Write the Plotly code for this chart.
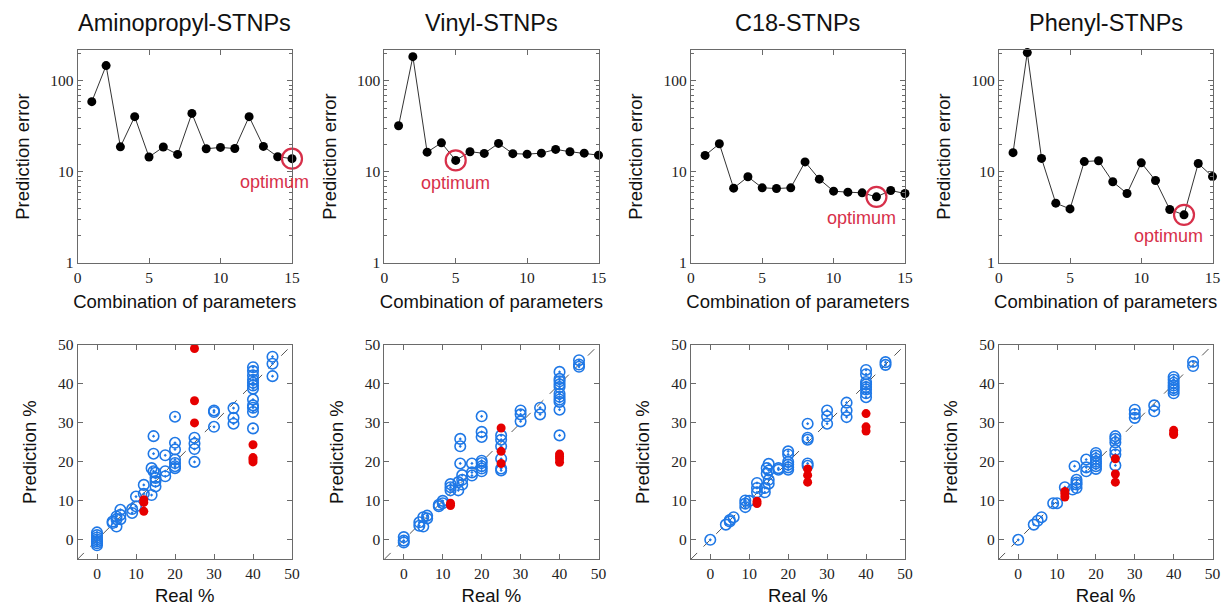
import math
import plotly.graph_objects as go

# ---------------- data ----------------
titles = ["Aminopropyl-STNPs", "Vinyl-STNPs", "C18-STNPs", "Phenyl-STNPs"]
combos = list(range(1, 16))
err_amino = [59.2, 147.5, 18.9, 40.5, 14.6, 18.8, 15.6, 44.0, 18.0, 18.6, 18.1, 40.5, 19.1, 14.7, 14.0]
err_vinyl = [32.2, 185.0, 16.5, 20.9, 13.4, 16.7, 16.0, 20.6, 15.9, 15.7, 16.1, 17.7, 16.7, 16.1, 15.3]
err_c18 = [15.2, 20.4, 6.64, 8.85, 6.7, 6.58, 6.7, 12.9, 8.34, 6.15, 6.0, 5.9, 5.33, 6.26, 5.8]
err_phenyl = [16.3, 205.0, 14.1, 4.54, 3.93, 13.0, 13.3, 7.8, 5.8, 12.6, 8.06, 3.87, 3.38, 12.4, 8.9]
optimum_idx = [15, 5, 13, 13]

# Aminopropyl scatter
am_blue_x = [0]*7 + [4, 4, 5, 5, 5, 6, 6, 6, 9, 9, 10, 10, 12, 12, 14, 14, 14.5, 14.5, 14.5,
             15, 15, 15, 15, 17.5, 17.5, 17.5, 20, 20, 20, 20, 20, 20, 20, 25, 25, 25, 25,
             30, 30, 30, 35, 35, 35] + [40]*12 + [45, 45, 45]
am_blue_y = [1.9, 1.2, 0.6, 0.1, -0.4, -0.9, -1.4, 4.7, 4.3, 6.0, 5.3, 3.4, 7.7, 6.4, 5.3, 7.9, 6.9,
             11.1, 8.6, 14.1, 11.8, 18.4, 11.5, 26.6, 22.1, 17.6, 17.2, 15.9, 15.0, 13.7, 21.7, 17.6,
             16.3, 31.6, 24.9, 23.2, 20.6, 19.7, 18.9, 18.4, 26.2, 24.7, 23.3, 20.0, 33.2, 32.8, 29.0,
             33.8, 31.3, 29.8, 44.3, 43.3, 42.2, 41.1, 40.3, 39.6, 38.8, 36.0, 34.5, 33.9, 32.8, 28.6,
             47.0, 45.2, 42.0]
am_red_x = [12, 12, 12, 25, 25, 25, 40, 40, 40, 40]
am_red_y = [10.3, 9.6, 7.3, 49.1, 35.7, 30.0, 24.4, 21.1, 20.6, 20.0]

# Vinyl scatter
vi_blue_x = [0, 0, 0, 4, 4, 5, 5, 6, 6, 9, 9, 10, 10, 12, 12, 12, 14, 14, 14.5, 14.5, 14.5,
             15, 15, 15, 17.5, 17.5, 17.5] + [20]*8 + [25]*6 + [30, 30, 30, 35, 35] + [40]*11 + [45, 45, 45]
vi_blue_y = [0.7, -0.2, -0.7, 4.5, 3.6, 5.8, 3.4, 6.2, 5.5, 9.0, 8.6, 10.0, 9.4, 14.3, 13.5, 12.7,
             14.8, 12.7, 25.9, 24.0, 19.6, 16.6, 15.4, 14.2, 19.6, 17.3, 16.5,
             31.7, 27.7, 26.4, 20.3, 19.7, 18.9, 18.3, 17.6, 26.8, 25.7, 24.0, 20.8, 18.3, 17.8,
             33.2, 32.2, 30.4, 33.9, 32.2, 43.1, 41.3, 40.7, 39.9, 39.2, 37.5, 36.7, 36.0, 35.4,
             33.4, 26.8, 46.1, 45.0, 44.4]
vi_red_x = [12, 12, 25, 25, 25, 40, 40, 40, 40]
vi_red_y = [9.4, 8.8, 28.7, 22.7, 19.6, 22.0, 21.4, 20.8, 19.9]

# C18 scatter
c18_blue_x = [0, 4, 5, 5, 6, 9, 9, 9, 10, 12, 12, 12, 14, 14, 14.5, 14.5, 15, 15, 15, 15, 17.5, 17.5] \
             + [20]*6 + [25]*5 + [30, 30, 30, 35, 35, 35] + [40]*8 + [45, 45]
c18_blue_y = [0.0, 3.9, 5.1, 4.7, 5.8, 10.1, 9.3, 8.4, 10.0, 14.6, 13.3, 12.2, 13.3, 12.2, 18.4, 17.0,
              19.5, 17.8, 15.4, 14.4, 18.4, 18.0, 22.7, 21.9, 20.0, 19.3, 18.6, 18.0,
              29.8, 26.2, 25.7, 19.6, 19.0, 33.2, 31.7, 29.8, 35.2, 33.2, 31.5,
              43.6, 42.5, 40.5, 39.9, 39.2, 38.6, 37.6, 36.6, 45.6, 44.9]
c18_red_x = [12, 12, 25, 25, 25, 40, 40, 40]
c18_red_y = [9.9, 9.3, 18.2, 16.6, 14.8, 32.4, 29.0, 27.9]

# Phenyl scatter
ph_blue_x = [0, 4, 5, 6, 9, 10, 12, 14, 14.5, 15, 15, 15, 15, 17.5, 17.5, 17.5] + [20]*7 + [25]*6 \
            + [30, 30, 30, 35, 35] + [40]*7 + [45, 45]
ph_blue_y = [0.0, 3.9, 4.9, 5.8, 9.4, 9.4, 13.5, 12.9, 18.9, 15.4, 14.7, 14.2, 13.3, 20.6, 18.6, 17.6,
             22.3, 21.6, 20.8, 20.1, 19.6, 18.9, 18.2, 26.6, 25.9, 25.0, 23.0, 21.9, 19.1,
             33.4, 32.3, 31.3, 34.5, 33.0, 41.8, 41.1, 40.3, 39.6, 39.0, 38.4, 37.6, 45.7, 44.6]
ph_red_x = [12, 12, 12, 25, 25, 25, 40, 40, 40]
ph_red_y = [12.4, 11.8, 11.0, 20.8, 16.9, 14.8, 28.1, 27.4, 27.0]

errors = [err_amino, err_vinyl, err_c18, err_phenyl]
blue_x = [am_blue_x, vi_blue_x, c18_blue_x, ph_blue_x]
blue_y = [am_blue_y, vi_blue_y, c18_blue_y, ph_blue_y]
red_x = [am_red_x, vi_red_x, c18_red_x, ph_red_x]
red_y = [am_red_y, vi_red_y, c18_red_y, ph_red_y]
diag = [-5, 50]

# ---------------- layout ----------------
W, H = 1223, 606
col_px = [(77.5, 292), (384.3, 598.5), (690.8, 905), (998.8, 1212.5)]
top_px = (50, 263)
bot_px = (345, 559.3)
opt_shift = [(-18, -23), (0, -23), (-15, -21), (-16, -21)]

tick_font = dict(family="Liberation Serif", size=15.5, color="#222")
title_font = dict(family="Liberation Sans", size=18.5, color="#111")
axis_col = "#6a6a6a"
opt_col = "#d7304a"
blue = "#1f78e6"
red = "#e60000"

fig = go.Figure()
layout = dict(width=W, height=H, margin=dict(l=0, r=0, t=0, b=0, autoexpand=False),
              paper_bgcolor="white", plot_bgcolor="white", showlegend=False,
              annotations=[])

def common_axis():
    return dict(showgrid=False, zeroline=False, showline=True, linecolor=axis_col, linewidth=1,
                mirror="allticks", ticks="inside", ticklen=5, tickcolor=axis_col, tickwidth=1,
                tickfont=tick_font, automargin=False)

for i in range(4):
    xt = 2 * i + 1  # top axes index
    xb = 2 * i + 2  # bottom axes index
    xd = [col_px[i][0] / W, col_px[i][1] / W]
    ydt = [1 - top_px[1] / H, 1 - top_px[0] / H]
    ydb = [1 - bot_px[1] / H, 1 - bot_px[0] / H]

    # top panel
    fig.add_trace(go.Scatter(x=combos, y=errors[i], mode="lines+markers",
                             line=dict(color="#333", width=1),
                             marker=dict(color="black", size=9),
                             xaxis=f"x{xt}", yaxis=f"y{xt}", cliponaxis=False))
    k = optimum_idx[i]
    fig.add_trace(go.Scatter(x=[combos[k - 1]], y=[errors[i][k - 1]], mode="markers",
                             marker=dict(symbol="circle-open", size=20, color=opt_col,
                                         line=dict(width=2.2, color=opt_col)),
                             xaxis=f"x{xt}", yaxis=f"y{xt}", cliponaxis=False))
    layout["annotations"].append(dict(
        x=combos[k - 1], y=math.log10(errors[i][k - 1]), xref=f"x{xt}", yref=f"y{xt}",
        text="optimum", showarrow=False, xshift=opt_shift[i][0], yshift=opt_shift[i][1],
        font=dict(family="Liberation Sans", size=18, color=opt_col)))

    ax = common_axis()
    ax.update(domain=xd, anchor=f"y{xt}", range=[0, 15], tickvals=[0, 5, 10, 15],
              title=dict(text="Combination of parameters", standoff=10, font=title_font))
    ay = common_axis()
    ay.update(domain=ydt, anchor=f"x{xt}", type="log", range=[0, 2.34],
              tickvals=[1, 10, 100], ticktext=["1", "10", "100"],
              minor=dict(ticks="inside", ticklen=3, tickcolor=axis_col,
                         tickvals=[2, 3, 4, 5, 6, 7, 8, 9, 20, 30, 40, 50, 60, 70, 80, 90, 200]),
              title=dict(text="Prediction error", standoff=15, font=title_font))
    layout[f"xaxis{xt}"] = ax
    layout[f"yaxis{xt}"] = ay

    # bottom panel
    fig.add_trace(go.Scatter(x=diag, y=diag, mode="lines",
                             line=dict(color="#555", width=1, dash="dash"),
                             xaxis=f"x{xb}", yaxis=f"y{xb}"))
    fig.add_trace(go.Scatter(x=blue_x[i], y=blue_y[i], mode="markers",
                             marker=dict(symbol="circle-open-dot", size=10.5, color=blue,
                                         line=dict(width=1.6, color=blue)),
                             xaxis=f"x{xb}", yaxis=f"y{xb}", cliponaxis=False))
    fig.add_trace(go.Scatter(x=red_x[i], y=red_y[i], mode="markers",
                             marker=dict(symbol="circle", size=9, color=red),
                             xaxis=f"x{xb}", yaxis=f"y{xb}", cliponaxis=False))
    bx = common_axis()
    bx.update(domain=xd, anchor=f"y{xb}", range=[-5, 50], tickvals=[0, 10, 20, 30, 40, 50],
              title=dict(text="Real %", standoff=8, font=title_font))
    by = common_axis()
    by.update(domain=ydb, anchor=f"x{xb}", range=[-5, 50], tickvals=[0, 10, 20, 30, 40, 50],
              title=dict(text="Prediction %", standoff=16, font=title_font))
    layout[f"xaxis{xb}"] = bx
    layout[f"yaxis{xb}"] = by

    layout["annotations"].append(dict(
        x=(xd[0] + xd[1]) / 2, y=1 - 23 / H, xref="paper", yref="paper", text=titles[i],
        showarrow=False, font=dict(family="Liberation Sans", size=23.5, color="#111"),
        xanchor="center", yanchor="middle"))

fig.update_layout(**layout)
fig.write_html("out.html", config={"displayModeBar": False},
               post_script="document.body.style.margin='0px';document.body.style.overflow='hidden';")
